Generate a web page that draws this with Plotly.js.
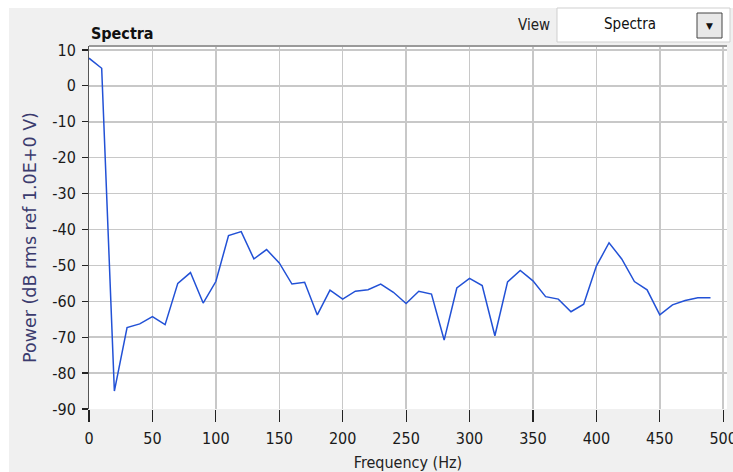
<!DOCTYPE html>
<html>
<head>
<meta charset="utf-8">
<script src="https://cdn.plot.ly/plotly-3.0.1.min.js"></script>
<style>html,body{margin:0;padding:0;background:#f0f0f0;}#chart{width:733px;height:472px;}</style>
</head>
<body>
<div id="chart"></div>
<script>
// Frequency (Hz)
var frequency = [0,10,20,30,40,50,60,70,80,90,100,110,120,130,140,150,160,170,180,190,200,210,220,230,240,250,260,270,280,290,300,310,320,330,340,350,360,370,380,390,400,410,420,430,440,450,460,470,480,490];
// Power (dB rms ref 1.0E+0 V)
var power = [7.7,4.9,-85,-67.3,-66.3,-64.3,-66.5,-55,-52,-60.5,-54.5,-41.7,-40.6,-48.2,-45.6,-49.3,-55.2,-54.7,-63.8,-56.9,-59.4,-57.2,-56.8,-55.2,-57.5,-60.6,-57.2,-58,-70.8,-56.3,-53.6,-55.6,-69.6,-54.6,-51.4,-54.3,-58.7,-59.4,-62.9,-60.8,-50.2,-43.7,-48.2,-54.5,-56.8,-63.8,-61,-59.8,-59,-59];
var xTicks = [0,50,100,150,200,250,300,350,400,450,500];
var yTicks = [10,0,-10,-20,-30,-40,-50,-60,-70,-80,-90];

var L = 89, R = 727, T = 46, B = 409, W = 733, H = 472;
function px(x){ return (x - L) / (R - L); }
function py(y){ return (B - y) / (B - T); }

var condensed = '"DejaVu Sans Condensed", "Liberation Sans Narrow", Arial, sans-serif';

var trace = {
  x: frequency, y: power, type: 'scatter', mode: 'lines',
  line: {color: '#2251d6', width: 1.5}, hoverinfo: 'x+y'
};

var layout = {
  width: W, height: H,
  margin: {l: L, r: W - R, t: T, b: H - B, pad: 0},
  paper_bgcolor: '#f0f0f0', plot_bgcolor: '#ffffff',
  showlegend: false,
  title: {text: '<b>Spectra</b>', xref: 'paper', x: 0.003, xanchor: 'left', yref: 'container', y: 1 - 33/H, yanchor: 'middle',
          font: {family: condensed, size: 16, color: '#111111'}},
  xaxis: {
    range: [0, 503], tickvals: xTicks, ticktext: xTicks.map(String),
    showgrid: true, gridcolor: '#c8c8c8', gridwidth: 1.5,
    zeroline: false, showline: false,
    ticks: 'outside', ticklen: 12, tickwidth: 1.2, tickcolor: '#222222',
    ticklabeloverflow: 'allow', ticklabelstandoff: 3,
    tickfont: {family: condensed, size: 16, color: '#1a1a1a'},
    title: {text: 'Frequency (Hz)', standoff: 14, font: {family: condensed, size: 16, color: '#222222'}}
  },
  yaxis: {
    range: [-90, 11.1], tickvals: yTicks, ticktext: yTicks.map(String),
    showgrid: true, gridcolor: '#c8c8c8', gridwidth: 1.5,
    zeroline: false, showline: true, linecolor: '#555555', linewidth: 1,
    ticks: 'outside', ticklen: 6, tickwidth: 1.2, tickcolor: '#222222',
    ticklabelstandoff: 3,
    tickfont: {family: condensed, size: 16, color: '#1a1a1a'},
    title: {text: ''}
  },
  shapes: [
    {type: 'rect', xref: 'paper', yref: 'paper', x0: px(0), x1: px(W), y0: py(0), y1: py(8), fillcolor: '#ffffff', line: {width: 0}, layer: 'below'},
    {type: 'rect', xref: 'paper', yref: 'paper', x0: px(0), x1: px(9), y0: py(0), y1: py(H), fillcolor: '#ffffff', line: {width: 0}, layer: 'below'},
    {type: 'line', xref: 'paper', yref: 'paper', x0: 0, x1: 1, y0: 1, y1: 1, line: {color: '#9a9a9a', width: 2}},
    {type: 'rect', xref: 'paper', yref: 'paper', x0: px(557), x1: px(730), y0: py(42), y1: py(8), fillcolor: '#ffffff', line: {color: '#cfcfcf', width: 1}},
    {type: 'rect', xref: 'paper', yref: 'paper', x0: px(697), x1: px(722), y0: py(38), y1: py(13), fillcolor: '#e8e8e8', line: {color: '#444444', width: 1}}
  ],
  annotations: [
    {text: 'Power (dB rms ref 1.0E+0 V)', xref: 'paper', yref: 'paper', x: px(30), y: py(238), xanchor: 'center', yanchor: 'middle',
     textangle: -90, showarrow: false, font: {family: '"DejaVu Sans", Verdana, sans-serif', size: 17.5, color: '#3b3b6e'}},
    {text: 'View', xref: 'paper', yref: 'paper', x: px(534), y: py(25), xanchor: 'center', yanchor: 'middle', showarrow: false,
     font: {family: condensed, size: 15, color: '#222222'}},
    {text: 'Spectra', xref: 'paper', yref: 'paper', x: px(630), y: py(24), xanchor: 'center', yanchor: 'middle', showarrow: false,
     font: {family: condensed, size: 15, color: '#111111'}},
    {text: '▼', xref: 'paper', yref: 'paper', x: px(709.5), y: py(26), xanchor: 'center', yanchor: 'middle', showarrow: false,
     font: {family: '"DejaVu Sans", sans-serif', size: 9, color: '#111111'}}
  ]
};

Plotly.newPlot('chart', [trace], layout, {staticPlot: true, displayModeBar: false});
</script>
</body>
</html>
